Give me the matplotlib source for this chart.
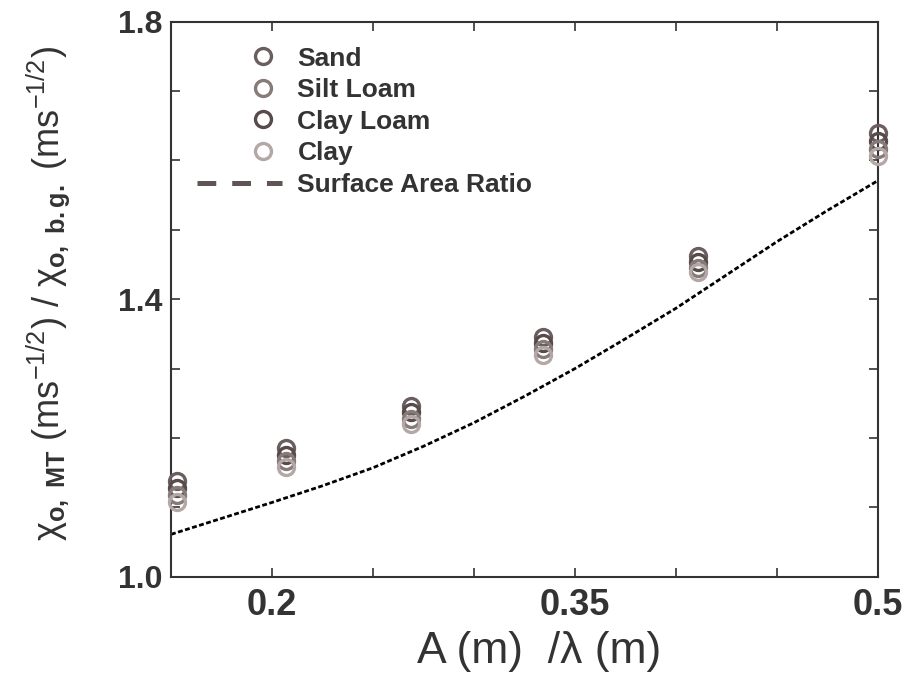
import matplotlib
matplotlib.use("Agg")
import matplotlib.pyplot as plt
from matplotlib.lines import Line2D
from matplotlib.legend_handler import HandlerLine2D
from matplotlib.ticker import FixedLocator, NullFormatter

plt.rcParams['font.family'] = ['Liberation Sans', 'DejaVu Sans']
plt.rcParams['mathtext.fontset'] = 'custom'
plt.rcParams['mathtext.rm'] = 'Liberation Sans'
plt.rcParams['mathtext.bf'] = 'Liberation Sans:bold'
plt.rcParams['mathtext.it'] = 'Liberation Sans:italic'
plt.rcParams['lines.scale_dashes'] = False

# ---- data ----
x_vals = [0.153, 0.207, 0.269, 0.334, 0.411, 0.500]
sand = [1.138, 1.185, 1.246, 1.345, 1.462, 1.639]
clay_loam = [1.128, 1.176, 1.237, 1.337, 1.453, 1.628]
silt_loam = [1.118, 1.167, 1.228, 1.328, 1.445, 1.617]
clay = [1.108, 1.158, 1.220, 1.320, 1.439, 1.606]

ratio_x = [0.150, 0.175, 0.200, 0.225, 0.250, 0.275, 0.300, 0.325, 0.350,
           0.375, 0.400, 0.425, 0.450, 0.475, 0.500]
ratio_y = [1.061, 1.084, 1.107, 1.131, 1.157, 1.188, 1.222, 1.260, 1.300,
           1.343, 1.387, 1.435, 1.483, 1.528, 1.571]

x_major = [0.2, 0.35, 0.5]
x_minor = [0.25, 0.3, 0.4, 0.45]
y_major = [1.0, 1.4, 1.8]
y_minor = [1.1, 1.2, 1.3, 1.5, 1.6, 1.7]

series = [
    ("Sand", sand, "#6b5e5e"),
    ("Silt Loam", silt_loam, "#877b79"),
    ("Clay Loam", clay_loam, "#574b4b"),
    ("Clay", clay, "#b3a8a6"),
]

fig = plt.figure(figsize=(9.02, 6.87), dpi=100)
ax = fig.add_axes([0.1896, 0.1606, 0.9734 - 0.1896, 0.9684 - 0.1606])

draw_order = [("Sand", sand, "#6b5e5e"), ("Clay Loam", clay_loam, "#574b4b"),
              ("Silt Loam", silt_loam, "#877b79"), ("Clay", clay, "#b3a8a6")]
handles = {}
for name, ys, col in draw_order:
    h, = ax.plot(x_vals, ys, linestyle='none', marker='o', markersize=11.5,
                 markerfacecolor='none', markeredgecolor=col,
                 markeredgewidth=2.4, clip_on=False, zorder=3)
    handles[name] = h

ax.plot(ratio_x, ratio_y, color='black', linewidth=2.0,
        dashes=(3.5, 1.8), zorder=2)

ratio_proxy = Line2D([], [], color='#5f5555', linewidth=3.6, dashes=(13.5, 11.5))


class RightMarker(HandlerLine2D):
    def get_xdata(self, legend, xdescent, ydescent, width, height, fontsize):
        x0 = -xdescent
        return [x0 + 0.56 * width, x0 + width], [x0 + 0.78 * width]


leg_handles = [handles[n] for n, _, _ in series] + [ratio_proxy]
leg_labels = [n for n, _, _ in series] + ["Surface Area Ratio"]
leg = ax.legend(leg_handles, leg_labels, loc='upper left',
                bbox_to_anchor=(0.037, 0.955), frameon=False,
                prop={'weight': 'bold', 'size': 19}, labelcolor='#333333',
                handlelength=3.2, handletextpad=0.6, labelspacing=0.285,
                borderpad=0, borderaxespad=0, numpoints=1,
                handler_map={h: RightMarker() for h in leg_handles[:4]})

ax.set_xlim(0.15, 0.5)
ax.set_ylim(1.0, 1.8)
ax.xaxis.set_major_locator(FixedLocator(x_major))
ax.xaxis.set_minor_locator(FixedLocator(x_minor))
ax.yaxis.set_major_locator(FixedLocator(y_major))
ax.yaxis.set_minor_locator(FixedLocator(y_minor))
ax.set_xticklabels(["0.2", "0.35", "0.5"])
ax.set_yticklabels(["1.0", "1.4", "1.8"])
ax.xaxis.set_minor_formatter(NullFormatter())

for which in ('major', 'minor'):
    ax.tick_params(axis='both', which=which, direction='in', length=6.5,
                   width=1.2, color='#333333', top=True, right=True)
ax.tick_params(axis='x', which='major', labelsize=26, pad=8,
               labelcolor='#333333')
ax.tick_params(axis='y', which='major', labelsize=23, pad=6,
               labelcolor='#333333')
for lab in ax.get_xticklabels() + ax.get_yticklabels():
    lab.set_fontweight('bold')

for sp in ax.spines.values():
    sp.set_linewidth(1.5)
    sp.set_color('#333333')

ax.set_xlabel("A (m)  /λ (m)", fontsize=32, color='#333333')
ax.xaxis.set_label_coords(0.52, -0.098)
ax.set_ylabel("χ$_{\\mathbf{o,\\ MT}}$ (ms$^{-1/2}$) / χ$_{\\mathbf{o,\\ b.g.}}$ (ms$^{-1/2}$)",
              fontsize=26, color='#333333')
ax.yaxis.set_label_coords(-0.14, 0.51)

fig.savefig("out.png", dpi=100)
